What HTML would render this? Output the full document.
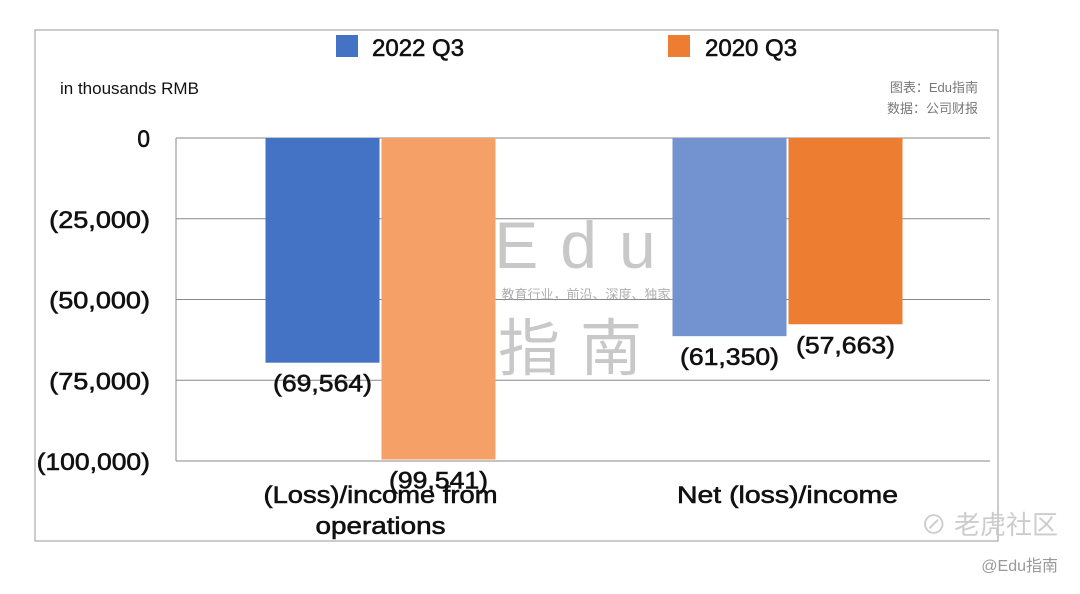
<!DOCTYPE html>
<html><head><meta charset="utf-8"><style>
body{margin:0;background:#fff;width:1080px;height:589px;overflow:hidden;font-family:"Liberation Sans","Noto Sans CJK SC",sans-serif}
.w{stroke:#111;stroke-width:0.6}
</style></head><body>
<svg width="1080" height="589">
<rect x="35" y="30" width="963" height="511" fill="#fff" stroke="#999"/>
<g id="grid"></g>
<g id="bars"></g>
<g fill="#bbb" opacity="0.8">
<text x="586" y="268" font-size="66" text-anchor="middle" letter-spacing="22">Edu</text>
<text x="586" y="299" font-size="13" text-anchor="middle" fill="#999">教育行业，前沿、深度、独家</text>
<text x="580" y="370" font-size="62" text-anchor="middle" letter-spacing="20">指南</text>
</g>
<g id="labels"></g>
<g>
<rect x="336" y="35" width="22" height="22" fill="#4472C4"/>
<text class="w" x="372" y="56" font-size="24" fill="#111">2022 Q3</text>
<rect x="668" y="35" width="22" height="22" fill="#ED7D31"/>
<text class="w" x="705" y="56" font-size="24" fill="#111">2020 Q3</text>
</g>
<text x="60" y="94" font-size="17" fill="#111">in thousands RMB</text>
<text x="978" y="92" font-size="13" fill="#777" text-anchor="end">图表：Edu指南</text>
<text x="978" y="113" font-size="13" fill="#777" text-anchor="end">数据：公司财报</text>
<text x="1058" y="534" font-size="26" fill="#ccc" text-anchor="end">⊘ 老虎社区</text>
<text x="1058" y="571" font-size="16" fill="#999" text-anchor="end">@Edu指南</text>
</svg>
<script>
const categories=["(Loss)/income from|operations","Net (loss)/income"];
const series2022=[-69564,-61350];
const series2020=[-99541,-57663];
const ticks=[0,-25000,-50000,-75000,-100000];
const tickLabels=["0","(25,000)","(50,000)","(75,000)","(100,000)"];
const ns="http://www.w3.org/2000/svg";
const y=v=>138+(-v)/100000*323;
const x0=176,x1=990,gw=(x1-x0)/2;
function el(t,a,p){const e=document.createElementNS(ns,t);for(const k in a)e.setAttribute(k,a[k]);document.getElementById(p).appendChild(e);return e;}
const fmt=v=>"("+Math.abs(v).toLocaleString("en-US")+")";
ticks.forEach((t,i)=>{
 const l=el("line",{x1:x0,x2:x1,y1:y(t),y2:y(t),stroke:"#888","stroke-width":1},"grid");
 
 
 const tx=el("text",{x:150,y:y(t)+9,"font-size":24,"text-anchor":"end",fill:"#111",class:"w",textLength:tickLabels[i].length*12.6,lengthAdjust:"spacingAndGlyphs"},"labels");
 tx.textContent=tickLabels[i];
 
 
});
const ax=el("line",{x1:x0,x2:x0,y1:138,y2:461,stroke:"#888"},"grid");


const c22=["#4472C4","#7293CF"],c20=["#F4A066","#ED7D31"];
categories.forEach((c,i)=>{
 const cx=x0+gw*i+gw/2+1;
 [[series2022[i],cx-115,c22[i]],[series2020[i],cx+1,c20[i]]].forEach(([v,bx,col],j)=>{
  const r=el("rect",{x:bx,y:138,width:114,height:y(v)-138,fill:col},"bars");
  
  
  const t=el("text",{x:bx+57,y:y(v)+29,"font-size":24,"text-anchor":"middle",fill:"#111",class:"w",textLength:99,lengthAdjust:"spacingAndGlyphs"},"labels");
  t.textContent=fmt(v);
  
  
 });
 c.split("|").forEach((s,k)=>{
  const t=el("text",{x:x0+gw*i+gw/2+1,y:503+k*31,"font-size":24,"text-anchor":"middle",fill:"#111",class:"w",textLength:s.length*13,lengthAdjust:"spacingAndGlyphs"},"labels");
  t.textContent=s;
  
  
 });
});
</script>
</body></html>
